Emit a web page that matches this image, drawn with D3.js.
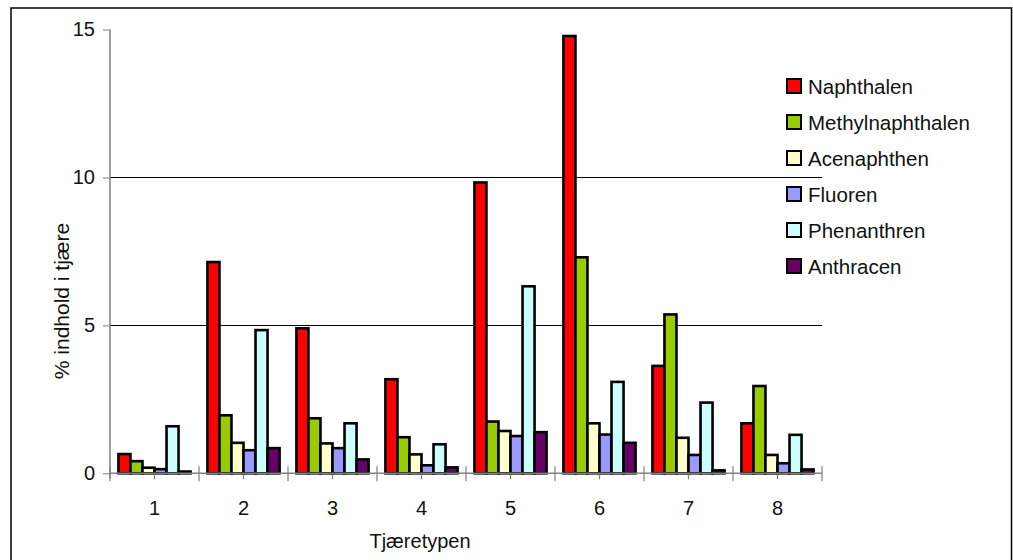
<!DOCTYPE html>
<html>
<head>
<meta charset="utf-8">
<script src="https://cdn.jsdelivr.net/npm/d3@7"></script>
<style>
  html, body { margin: 0; padding: 0; background: #fff; }
  svg { display: block; }
  text { font-family: "Liberation Sans", Arial, sans-serif; fill: #111; }
</style>
</head>
<body>
<svg id="chart" width="1013" height="560"></svg>
<script>
// Tjæretyper (categories)
const categories = ["1", "2", "3", "4", "5", "6", "7", "8"];

// Series names and colours
const seriesNames = ["Naphthalen", "Methylnaphthalen", "Acenaphthen", "Fluoren", "Phenanthren", "Anthracen"];
const seriesColors = ["#FF0000", "#99CC00", "#FFFFCC", "#9999FF", "#CCFFFF", "#660066"];

// % indhold i tjære, one array per compound, one value per tar type
const naphthalen       = [0.65, 7.14, 4.90, 3.18, 9.83, 14.78, 3.63, 1.69];
const methylnaphthalen = [0.41, 1.96, 1.86, 1.22, 1.75, 7.30, 5.37, 2.95];
const acenaphthen      = [0.19, 1.03, 1.01, 0.64, 1.43, 1.69, 1.20, 0.62];
const fluoren          = [0.14, 0.78, 0.85, 0.27, 1.26, 1.31, 0.62, 0.34];
const phenanthren      = [1.59, 4.84, 1.69, 0.98, 6.32, 3.09, 2.39, 1.30];
const anthracen        = [0.06, 0.85, 0.47, 0.20, 1.39, 1.03, 0.10, 0.13];

const seriesValues = [naphthalen, methylnaphthalen, acenaphthen, fluoren, phenanthren, anthracen];

// Y axis ticks and the levels that get a gridline
const yTicks = [0, 5, 10, 15];
const gridLevels = [5, 10];

const svg = d3.select("#chart");

// Outer chart frame
svg.append("rect")
  .attr("x", 11).attr("y", 8)
  .attr("width", 1000.5).attr("height", 600)
  .attr("fill", "none").attr("stroke", "#000").attr("stroke-width", 1.5);

const plot = { left: 110, right: 822, top: 29.5, bottom: 473.3 };

const x = d3.scaleBand().domain(categories).range([plot.left, plot.right]).paddingInner(0).paddingOuter(0);
const xInner = d3.scaleBand().domain(d3.range(seriesNames.length)).range([0, x.bandwidth()]).paddingInner(0).paddingOuter(0.7);
const y = d3.scaleLinear().domain([0, 15]).range([plot.bottom, plot.top]);

// Gridlines
svg.append("g").selectAll("line").data(gridLevels).join("line")
  .attr("x1", plot.left).attr("x2", plot.right)
  .attr("y1", d => Math.round(y(d)) + 0.5).attr("y2", d => Math.round(y(d)) + 0.5)
  .attr("stroke", "#000").attr("stroke-width", 1);

// Bars
const rows = categories.map((c, i) => ({ cat: c, vals: seriesValues.map(s => s[i]) }));
const groups = svg.append("g").selectAll("g").data(rows).join("g")
  .attr("transform", d => `translate(${x(d.cat)},0)`);
groups.selectAll("rect").data(d => d.vals.map((v, k) => ({ v, k }))).join("rect")
  .attr("x", d => xInner(d.k))
  .attr("y", d => y(d.v))
  .attr("width", xInner.bandwidth())
  .attr("height", d => y(0) - y(d.v))
  .attr("fill", d => seriesColors[d.k])
  .attr("stroke", "#000").attr("stroke-width", 2.6);

// Y axis
const yAxis = d3.axisLeft(y).tickValues(yTicks).tickSize(7).tickPadding(8).tickFormat(d3.format("d"));
const gy = svg.append("g").attr("transform", `translate(${plot.left},0)`).call(yAxis);
gy.select(".domain").remove();
gy.selectAll(".tick line").attr("stroke", "#808080");
gy.append("line").attr("x1", 0).attr("x2", 0).attr("y1", plot.top).attr("y2", plot.bottom + 5)
  .attr("stroke", "#808080").attr("stroke-width", 1.5);
gy.selectAll(".tick text").style("font-size", "20px").style("font-family", "Liberation Sans, Arial, sans-serif").style("fill", "#111");

// X axis: baseline, long ticks between categories, short ticks at centres
const gx = svg.append("g");
gx.append("line").attr("x1", plot.left).attr("x2", plot.right)
  .attr("y1", plot.bottom).attr("y2", plot.bottom).attr("stroke", "#808080").attr("stroke-width", 1.5);
const bounds = categories.map(c => x(c)).concat([x(categories[categories.length - 1]) + x.bandwidth()]);
gx.selectAll("line.b").data(bounds).join("line").attr("class", "b")
  .attr("x1", d => d).attr("x2", d => d).attr("y1", plot.bottom - 7).attr("y2", plot.bottom + 8)
  .attr("stroke", "#808080").attr("stroke-width", 1.2);
gx.selectAll("line.c").data(categories).join("line").attr("class", "c")
  .attr("x1", d => x(d) + x.bandwidth() / 2).attr("x2", d => x(d) + x.bandwidth() / 2)
  .attr("y1", plot.bottom).attr("y2", plot.bottom + 6)
  .attr("stroke", "#808080").attr("stroke-width", 1.2);
gx.selectAll("text").data(categories).join("text")
  .attr("x", d => x(d) + x.bandwidth() / 2).attr("y", 515)
  .attr("text-anchor", "middle").style("font-size", "20px").text(d => d);

// Axis titles
svg.append("text").attr("x", 420).attr("y", 548).attr("text-anchor", "middle")
  .style("font-size", "20px").text("Tjæretypen");
svg.append("text").attr("transform", "translate(69,301) rotate(-90)").attr("text-anchor", "middle")
  .style("font-size", "21px").text("% indhold i tjære");

// Legend
const legend = svg.append("g").attr("transform", "translate(787,79)");
const items = legend.selectAll("g").data(seriesNames).join("g")
  .attr("transform", (d, i) => `translate(0,${i * 36})`);
items.append("rect").attr("width", 14).attr("height", 14)
  .attr("fill", (d, i) => seriesColors[i]).attr("stroke", "#000").attr("stroke-width", 2);
items.append("text").attr("x", 21).attr("y", 15).style("font-size", "20.5px").text(d => d);
</script>
</body>
</html>
